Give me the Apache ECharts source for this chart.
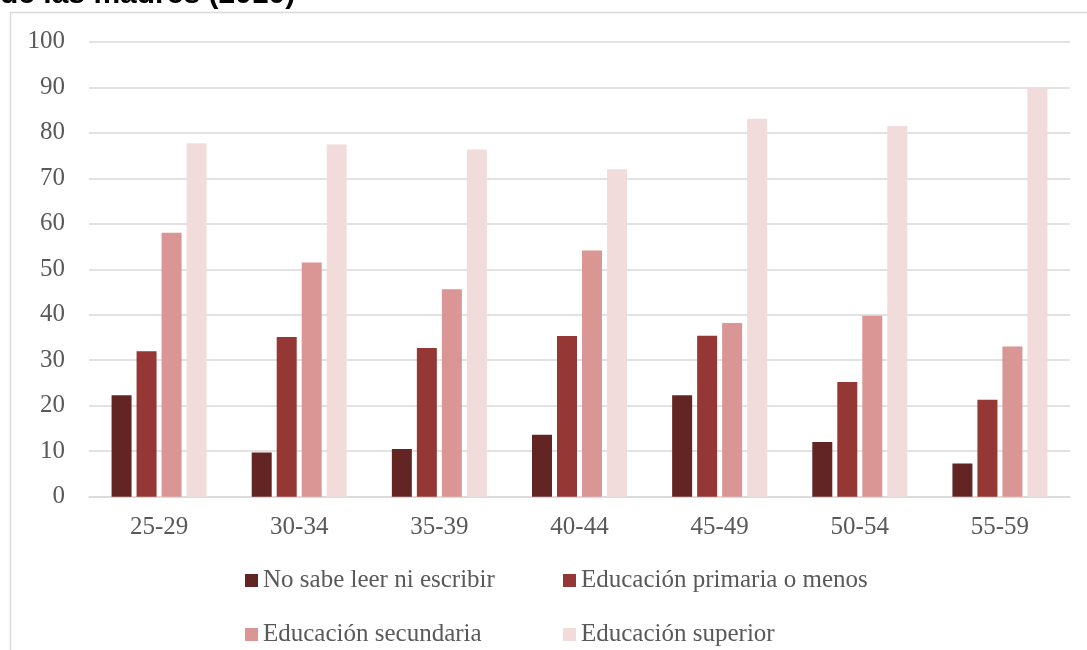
<!DOCTYPE html>
<html>
<head>
<meta charset="utf-8">
<script src="https://cdn.jsdelivr.net/npm/echarts@6/dist/echarts.min.js"></script>
<style>
  html, body { margin: 0; padding: 0; background: #ffffff; }
  #chart { width: 1087px; height: 650px; }
</style>
</head>
<body>
<div id="chart"></div>
<script>
// Age groups of the mothers
const categories = ['25-29', '30-34', '35-39', '40-44', '45-49', '50-54', '55-59'];

// Series names (mother's education level)
const seriesNames = [
  'No sabe leer ni escribir',
  'Educación primaria o menos',
  'Educación secundaria',
  'Educación superior'
];

// Values per education level, one per age group
const noLeeEscribe = [22.3, 9.7, 10.5, 13.6, 22.3, 12.0, 7.3];
const primaria     = [32.0, 35.1, 32.7, 35.3, 35.4, 25.2, 21.3];
const secundaria   = [58.0, 51.5, 45.6, 54.1, 38.2, 39.8, 33.0];
const superior     = [77.7, 77.4, 76.3, 72.0, 83.1, 81.5, 89.9];

// Value axis ticks
const yMin = 0;
const yMax = 100;
const yStep = 10;

const colors = ['#632523', '#953735', '#D99694', '#F2DCDB'];
const serifFont = '"Liberation Serif", "DejaVu Serif", serif';
const labelColor = '#595959';

const chart = echarts.init(document.getElementById('chart'), null, { renderer: 'canvas' });

const values = [noLeeEscribe, primaria, secundaria, superior];

function legendFor(name, left, top) {
  return {
    data: [name],
    left: left,
    top: top,
    orient: 'horizontal',
    icon: 'rect',
    itemWidth: 13,
    itemHeight: 13,
    itemGap: 5,
    padding: 0,
    selectedMode: false,
    textStyle: { fontFamily: serifFont, fontSize: 25, color: labelColor, padding: [0, 0, 0, 0] }
  };
}

const option = {
  backgroundColor: '#ffffff',
  animation: false,
  color: colors,
  graphic: [
    {
      type: 'rect',
      silent: true,
      shape: { x: 10.5, y: 12.5, width: 1100, height: 700 },
      style: { fill: 'none', stroke: '#D9D9D9', lineWidth: 1.5 }
    },
    {
      type: 'text',
      silent: true,
      style: {
        x: 0,
        y: -5,
        text: 'de las madres (2010)',
        font: 'bold 30px "Liberation Sans", Arial, sans-serif',
        fill: '#000000',
        verticalAlign: 'middle',
        align: 'left'
      }
    }
  ],
  grid: { left: 89, right: 17, top: 41.8, bottom: 153.3, containLabel: false },
  legend: [
    legendFor(seriesNames[0], 245, 568),
    legendFor(seriesNames[1], 563, 568),
    legendFor(seriesNames[2], 245, 622),
    legendFor(seriesNames[3], 563, 622)
  ],
  xAxis: {
    type: 'category',
    data: categories,
    axisLine: { show: true, lineStyle: { color: '#D9D9D9', width: 1.5 } },
    axisTick: { show: false },
    axisLabel: { margin: 18, fontFamily: serifFont, fontSize: 25, color: labelColor }
  },
  yAxis: {
    type: 'value',
    min: yMin,
    max: yMax,
    interval: yStep,
    axisLine: { show: false },
    axisTick: { show: false },
    splitLine: { show: true, lineStyle: { color: '#D9D9D9', width: 1.5 } },
    axisLabel: { margin: 24, fontFamily: serifFont, fontSize: 25, color: labelColor }
  },
  series: seriesNames.map((name, i) => ({
    name: name,
    type: 'bar',
    data: values[i],
    barWidth: 20,
    barGap: '25%',
    itemStyle: { color: colors[i] }
  }))
};

chart.setOption(option);
</script>
</body>
</html>
